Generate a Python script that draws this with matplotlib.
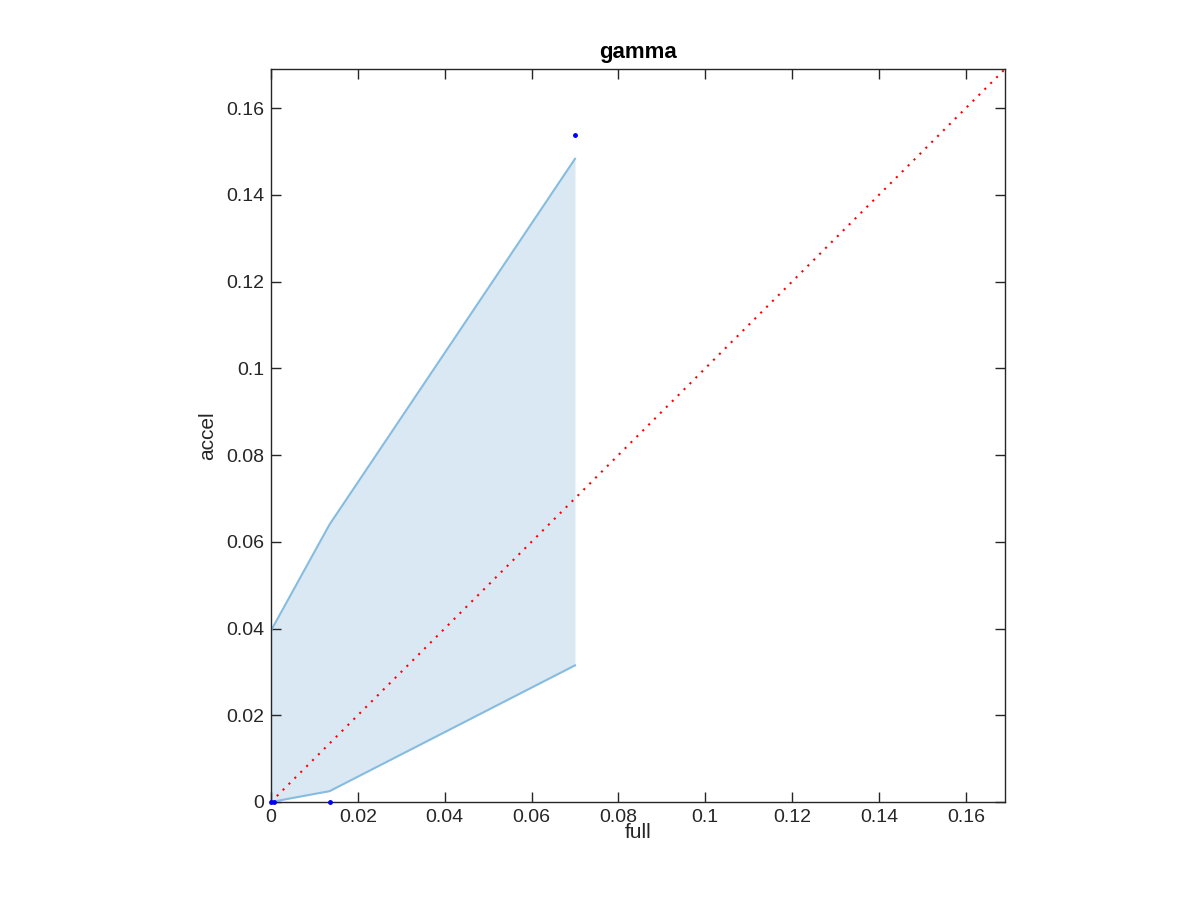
import numpy as np
import matplotlib.pyplot as plt
from matplotlib.ticker import FuncFormatter

plt.rcParams['font.family'] = ['Liberation Sans', 'DejaVu Sans']

# band (accel range vs full)
band_x = [0, 0.0135, 0.07]
band_lo = [0, 0.0025, 0.0315]
band_hi = [0.0395, 0.064, 0.1483]

# points
pts_x = [0, 0.0008, 0.0135, 0.07]
pts_y = [0, 0, 0, 0.1537]

lim = 0.169
ticks = [0, 0.02, 0.04, 0.06, 0.08, 0.1, 0.12, 0.14, 0.16]

fig = plt.figure(figsize=(12, 9), dpi=100)
ax = fig.add_axes([0.2258, 0.1089, 0.6117, 0.8144])

ax.fill_between(band_x, band_lo, band_hi, color='#dae8f4', lw=0)
ax.plot(band_x, band_hi, color='#86bce0', lw=1.5)
ax.plot(band_x, band_lo, color='#86bce0', lw=1.5)
ax.plot([0, 0], [band_lo[0], band_hi[0]], color='#86bce0', lw=1.5)

ax.plot([0, lim], [0, lim], color='red', ls=(0, (1, 3)), lw=1.5)
ax.plot(pts_x, pts_y, '.', color='blue', ms=5, clip_on=False, zorder=5)

ax.set_xlim(0, lim)
ax.set_ylim(0, lim)
ax.set_xticks(ticks)
ax.set_yticks(ticks)
fmt = FuncFormatter(lambda v, p: ('%g' % round(v, 4)))
ax.xaxis.set_major_formatter(fmt)
ax.yaxis.set_major_formatter(fmt)
ax.tick_params(direction='in', top=True, right=True, length=7, width=1,
               labelsize=14, colors='#262626', pad=5)
for s in ax.spines.values():
    s.set_color('#262626')
    s.set_linewidth(1)

ax.set_xlabel('full', fontsize=15, color='#262626', labelpad=-2)
ax.set_ylabel('accel', fontsize=15, color='#262626', labelpad=6)
ax.set_title('gamma', fontsize=16, fontweight='bold', pad=8)

fig.savefig('out.png', dpi=100)
